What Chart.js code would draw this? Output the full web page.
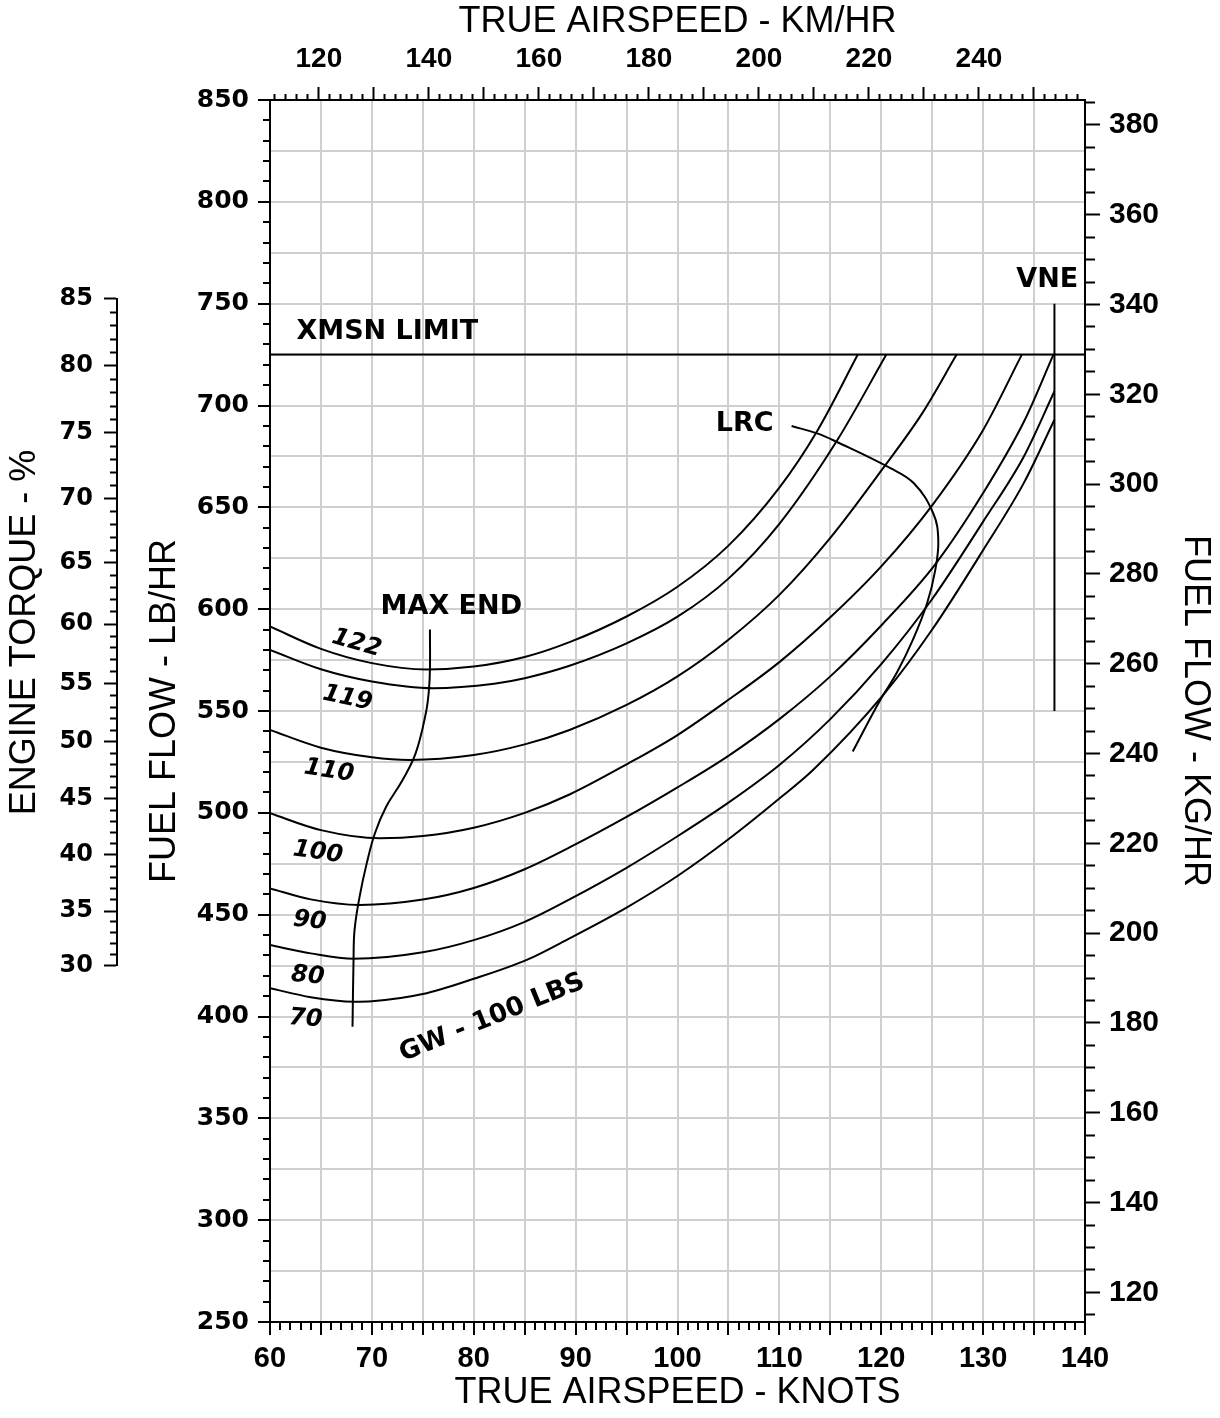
<!DOCTYPE html>
<html>
<head>
<meta charset="utf-8">
<title>Fuel flow vs true airspeed</title>
<script src="https://cdn.jsdelivr.net/npm/chart.js@4.4.1/dist/chart.umd.min.js"></script>
<style>
  html, body { margin: 0; padding: 0; background: #fff; }
  canvas { display: block; }
</style>
</head>
<body>
<canvas id="fuelChart" width="1220" height="1418"></canvas>
<script>
// gross weight curves (GW - 100 lbs): true airspeed (knots) -> fuel flow (lb/hr)
const gwNames = ["122", "119", "110", "100", "90", "80", "70"];

const gw122Knots = [60, 65, 70, 75.4, 80, 85, 89.4, 95, 100, 105, 110, 113.7, 117.7];
const gw122Fuel = [591.5, 580.5, 573.5, 570.4, 571.8, 576.5, 583.8, 596.4, 611, 631.2, 659.7, 687.4, 725];

const gw119Knots = [60, 65, 70, 76, 82, 85, 89.4, 95, 100, 105, 110, 115.6, 120.5];
const gw119Fuel = [580, 570.5, 564.5, 561.2, 563.4, 566.1, 572.2, 583.2, 596.3, 615, 641.9, 682.3, 725];

const gw110Knots = [60, 65, 70, 73.7, 80, 85, 89.4, 95, 100, 105, 110, 115, 120, 124, 127.4];
const gw110Fuel = [540.7, 532, 527.3, 526, 528.4, 533.6, 540.7, 553, 567, 585, 607, 635, 668, 696, 725];

const gw100Knots = [60, 65, 70.8, 75, 80, 85, 89.4, 95, 100, 105, 110, 115, 120, 125, 130, 133.8];
const gw100Fuel = [499.8, 491.5, 487.5, 488.6, 492.7, 500, 509, 523.8, 538.2, 555.5, 574, 596, 621, 651, 688, 725];

const gw90Knots = [60, 64, 68.8, 75, 80, 85, 89.4, 95, 100, 105, 110, 115, 120, 125.3, 130, 134, 136.9];
const gw90Fuel = [462.9, 457.5, 454.8, 457.4, 463.1, 472.3, 483, 498, 512.5, 528, 546, 567, 592, 622, 657, 692, 725];

const gw80Knots = [60, 64, 68.2, 75, 80, 85, 89.4, 95, 100, 105, 110, 115, 120, 125, 130, 134, 137];
const gw80Fuel = [435.1, 431, 428.3, 431.5, 437.5, 446.5, 457.5, 473, 488.5, 505, 523.5, 546, 573, 605, 643, 675, 707];

const gw70Knots = [60, 64, 68.2, 70, 75, 80, 85.2, 89.4, 95, 100, 105, 110, 113.3, 120.2, 125, 130, 134, 137];
const gw70Fuel = [413.9, 409.5, 407.3, 407.5, 411, 418.5, 427.8, 438.4, 453.5, 469, 487, 507, 521, 557.9, 590, 629, 662, 693];

const gwKnots = [gw122Knots, gw119Knots, gw110Knots, gw100Knots, gw90Knots, gw80Knots, gw70Knots];
const gwFuel = [gw122Fuel, gw119Fuel, gw110Fuel, gw100Fuel, gw90Fuel, gw80Fuel, gw70Fuel];

// max endurance and long range cruise lines
const maxEndKnots = [75.7, 75.7, 75.6, 75.3, 74.3, 73, 71.4, 70.3, 69.5, 68.8, 68.3, 68.2, 68.1];
const maxEndFuel = [590, 570.5, 560.3, 549, 529.3, 516, 503, 490, 475.3, 459, 442.5, 427.8, 395];

const lrcKnots = [111.2, 113.7, 115.6, 120.9, 123.2, 125.1, 125.6, 125.3, 124.5, 123.1, 121.5, 119.9, 117.2];
const lrcFuel = [689.9, 686.3, 682.2, 669.2, 661.8, 647.1, 634, 619.2, 602.9, 584.9, 568.5, 555.4, 530.1];

// limits
const xmsnKnots = [60, 140];
const xmsnFuel = [725, 725];
const vneKnots = [137, 137];
const vneFuel = [550, 750];

// engine torque scale (%), located against the lb/hr axis
const torqueLabels = [30, 35, 40, 45, 50, 55, 60, 65, 70, 75, 80, 85];
const torqueFuel = [424.8, 451.8, 479.3, 506.8, 534.8, 563.3, 592.7, 622.7, 654.1, 686.5, 719.4, 752.3];

const KM_PER_KNOT = 1.852;
const KG_PER_LB = 0.45359;

const FONT = "'Liberation Sans', Arial, Helvetica, sans-serif";
const WIDE = "'DejaVu Sans', Verdana, sans-serif";
const GRID = "#cfcfcf";
const CLEAR = "rgba(0,0,0,0)";

Chart.defaults.font.family = FONT;
Chart.defaults.color = "#000";

function range(from, to, step) {
  const out = [];
  for (let v = from; v <= to + 1e-9; v += step) out.push(Math.round(v * 1000) / 1000);
  return out;
}

function pairs(xs, ys) {
  return xs.map((x, i) => ({ x: x, y: ys[i] }));
}

// minor ticks are shortened with a dash pattern; top/left ticks are stroked from the outer end
function minorDash(fromOuterEnd, majorLen, minorLen) {
  return (c) => {
    if (!c.tick || c.tick.major) return [];
    return fromOuterEnd ? [0, majorLen - minorLen, minorLen, 100] : [minorLen, 100];
  };
}

// torque ticks every 1 %, spaced evenly inside each 5 % step
const torqueTicks = [];
for (let i = 0; i < torqueLabels.length; i++) {
  torqueTicks.push({ value: torqueFuel[i], major: true, label: torqueLabels[i] });
  if (i === torqueLabels.length - 1) break;
  for (let k = 1; k < 5; k++) {
    const f = torqueFuel[i] + (torqueFuel[i + 1] - torqueFuel[i]) * k / 5;
    torqueTicks.push({ value: f, major: false, label: "" });
  }
}

const titleFont = { size: 36, weight: "normal" };

const datasets = gwNames.map((name, i) => ({
  label: "GW " + name,
  data: pairs(gwKnots[i], gwFuel[i]),
  cubicInterpolationMode: "monotone",
}));
datasets.push({ label: "MAX END", data: pairs(maxEndKnots, maxEndFuel), tension: 0.4 });
datasets.push({ label: "LRC", data: pairs(lrcKnots, lrcFuel), tension: 0.4 });
datasets.push({ label: "XMSN LIMIT", data: pairs(xmsnKnots, xmsnFuel), tension: 0 });
datasets.push({ label: "VNE", data: pairs(vneKnots, vneFuel), tension: 0 });
datasets.forEach((d) => {
  d.borderColor = "#000";
  d.borderWidth = 2;
  d.pointRadius = 0;
  d.fill = false;
});

// text written on the chart, placed in knots / lb/hr
const boldNote = "bold 27px " + WIDE;
const curveNote = "italic bold 24px " + WIDE;
const notes = [
  { text: "XMSN LIMIT", kt: 62.6, ff: 736, angle: 0, align: "left", font: boldNote },
  { text: "VNE", kt: 136.3, ff: 761.6, angle: 0, align: "center", font: boldNote },
  { text: "LRC", kt: 106.6, ff: 690.9, angle: 0, align: "center", font: boldNote },
  { text: "MAX END", kt: 77.8, ff: 601, angle: 0, align: "center", font: boldNote },
  { text: "GW - 100 LBS", kt: 81.8, ff: 399.3, angle: -22, align: "center", font: "bold 26px " + WIDE },
  { text: "122", kt: 68.5, ff: 583.2, angle: 16, align: "center", font: curveNote },
  { text: "119", kt: 67.6, ff: 556.2, angle: 12, align: "center", font: curveNote },
  { text: "110", kt: 65.8, ff: 520.5, angle: 9, align: "center", font: curveNote },
  { text: "100", kt: 64.7, ff: 480.5, angle: 8, align: "center", font: curveNote },
  { text: "90", kt: 63.9, ff: 446.9, angle: 6, align: "center", font: curveNote },
  { text: "80", kt: 63.7, ff: 419.9, angle: 5, align: "center", font: curveNote },
  { text: "70", kt: 63.5, ff: 398.8, angle: 4, align: "center", font: curveNote },
];

const notesPlugin = {
  id: "notes",
  afterDatasetsDraw(chart) {
    const { ctx, scales } = chart;
    notes.forEach((n) => {
      ctx.save();
      ctx.translate(scales.x.getPixelForValue(n.kt), scales.y.getPixelForValue(n.ff));
      ctx.rotate((n.angle * Math.PI) / 180);
      ctx.font = n.font;
      ctx.fillStyle = "#000";
      ctx.textAlign = n.align;
      ctx.textBaseline = "middle";
      ctx.fillText(n.text, 0, 0);
      ctx.restore();
    });
  },
};

// the torque scale only covers part of the lb/hr range: shrink it to that span
const torqueSpanPlugin = {
  id: "torqueSpan",
  afterLayout(chart) {
    const t = chart.scales.yTorque;
    const y = chart.scales.y;
    t.top = y.getPixelForValue(t.max);
    t.bottom = y.getPixelForValue(t.min);
    t.height = t.bottom - t.top;
    t.configure();
  },
};

new Chart(document.getElementById("fuelChart"), {
  type: "line",
  data: { datasets },
  plugins: [torqueSpanPlugin, notesPlugin],
  options: {
    responsive: false,
    animation: false,
    events: [],
    layout: { padding: 0 },
    plugins: {
      legend: { display: false },
      tooltip: { enabled: false },
    },
    scales: {
      x: {
        type: "linear",
        position: "bottom",
        min: 60,
        max: 140,
        afterBuildTicks: (s) => {
          s.ticks = range(60, 140, 1).map((v) => ({ value: v, major: v % 5 === 0 }));
        },
        afterFit: (s) => { s.height = 96; },
        ticks: {
          autoSkip: false,
          maxRotation: 0,
          padding: 7,
          font: { size: 29, weight: "bold" },
          callback: (v) => (v % 10 === 0 ? v : ""),
        },
        grid: {
          lineWidth: 2,
          color: (c) => (c.tick && c.tick.value % 5 === 0 && c.tick.value > 60 && c.tick.value < 140 ? GRID : CLEAR),
          tickColor: "#000",
          tickWidth: 2,
          tickLength: 13,
          tickBorderDash: minorDash(false, 13, 7),
        },
        border: { color: "#000", width: 2 },
        title: { display: true, text: "TRUE AIRSPEED - KNOTS", font: titleFont, padding: { top: 0, bottom: 3 } },
      },
      xKm: {
        type: "linear",
        position: "top",
        min: 60 * KM_PER_KNOT,
        max: 140 * KM_PER_KNOT,
        afterBuildTicks: (s) => {
          s.ticks = range(112, 258, 2).map((v) => ({ value: v, major: v % 10 === 0 }));
        },
        afterFit: (s) => { s.height = 100; },
        ticks: {
          autoSkip: false,
          maxRotation: 0,
          padding: 11,
          font: { size: 28, weight: "bold" },
          callback: (v) => (v % 20 === 0 ? v : ""),
        },
        grid: {
          drawOnChartArea: false,
          tickColor: "#000",
          tickWidth: 2,
          tickLength: 13,
          tickBorderDash: minorDash(true, 13, 6),
        },
        border: { color: "#000", width: 2 },
        title: { display: true, text: "TRUE AIRSPEED - KM/HR", font: titleFont, padding: { top: 0, bottom: 0 } },
      },
      y: {
        type: "linear",
        position: "left",
        weight: 0,
        min: 250,
        max: 850,
        afterBuildTicks: (s) => {
          s.ticks = range(250, 850, 5).map((v) => ({ value: v, major: v % 50 === 0 }));
        },
        afterFit: (s) => { s.width = 153; },
        ticks: {
          autoSkip: false,
          padding: 9,
          font: { family: WIDE, size: 25, weight: "bold" },
          callback: (v) => (v % 50 === 0 ? v : ""),
        },
        grid: {
          lineWidth: 2,
          color: (c) => (c.tick && c.tick.value % 25 === 0 && c.tick.value > 250 && c.tick.value < 850 ? GRID : CLEAR),
          tickColor: (c) => (c.tick && c.tick.value % 10 === 0 ? "#000" : CLEAR),
          tickWidth: 2,
          tickLength: 12,
          tickBorderDash: minorDash(true, 12, 7),
        },
        border: { color: "#000", width: 2 },
        title: { display: true, text: "FUEL FLOW - LB/HR", font: titleFont, padding: { top: 26, bottom: 0 } },
      },
      yTorque: {
        type: "linear",
        position: "left",
        weight: 1,
        min: torqueFuel[0],
        max: torqueFuel[torqueFuel.length - 1],
        afterBuildTicks: (s) => {
          s.ticks = torqueTicks.map((t) => ({ value: t.value, major: t.major }));
        },
        afterFit: (s) => { s.width = 117; },
        ticks: {
          autoSkip: false,
          padding: 11,
          font: { family: WIDE, size: 24, weight: "bold" },
          callback: (v, i) => torqueTicks[i].label,
        },
        grid: {
          drawOnChartArea: false,
          tickColor: "#000",
          tickWidth: 2,
          tickLength: 13,
          tickBorderDash: minorDash(true, 13, 7),
        },
        border: { color: "#000", width: 2 },
        title: { display: true, text: "ENGINE TORQUE - %", font: titleFont, padding: { top: 3, bottom: 0 } },
      },
      yKg: {
        type: "linear",
        position: "right",
        min: 250 * KG_PER_LB,
        max: 850 * KG_PER_LB,
        afterBuildTicks: (s) => {
          s.ticks = range(115, 385, 5).map((v) => ({ value: v, major: v % 20 === 0 }));
        },
        afterFit: (s) => { s.width = 135; },
        ticks: {
          autoSkip: false,
          padding: 9,
          font: { size: 30, weight: "bold" },
          callback: (v) => (v % 20 === 0 ? v : ""),
        },
        grid: {
          drawOnChartArea: false,
          tickColor: "#000",
          tickWidth: 2,
          tickLength: 15,
          tickBorderDash: minorDash(false, 15, 9),
        },
        border: { color: "#000", width: 2 },
        title: { display: true, text: "FUEL FLOW - KG/HR", font: titleFont, padding: { top: 3, bottom: 0 } },
      },
    },
  },
});
</script>
</body>
</html>
